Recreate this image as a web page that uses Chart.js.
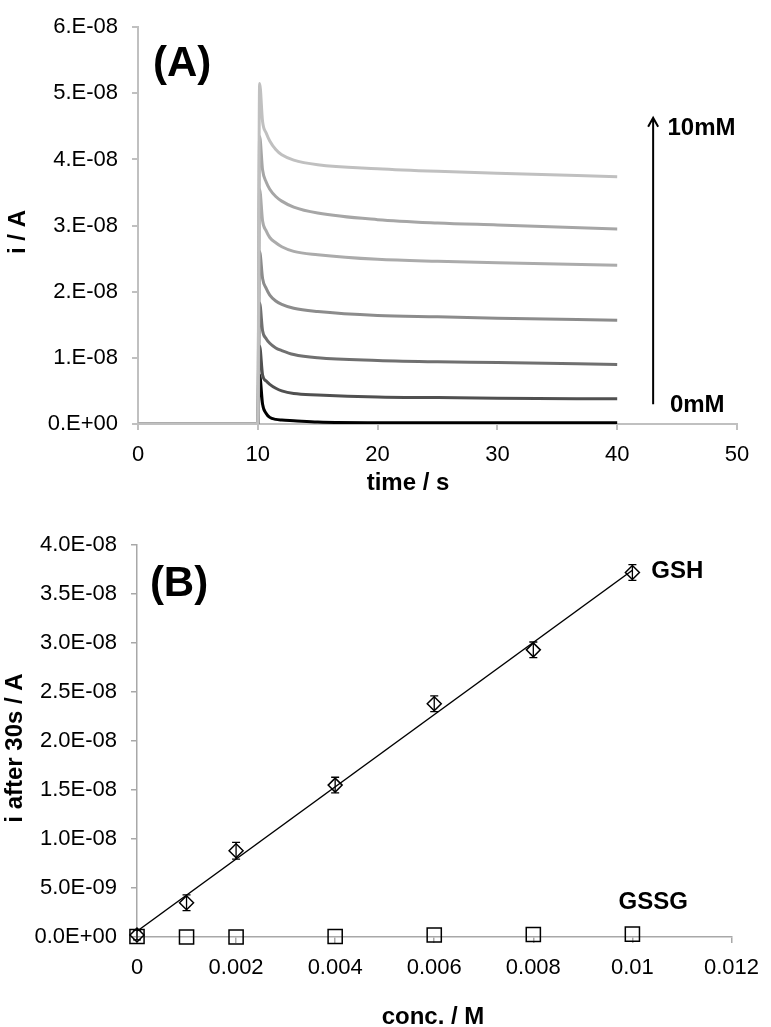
<!DOCTYPE html>
<html>
<head>
<meta charset="utf-8">
<script src="https://cdn.jsdelivr.net/npm/chart.js@4.4.1/dist/chart.umd.min.js"></script>
<style>
  body { margin: 0; background: #fff; }
  canvas { display: block; }
</style>
</head>
<body>
<canvas id="chartA" width="771" height="500"></canvas>
<canvas id="chartB" width="771" height="527"></canvas>
<script>
// ---- (A) chronoamperometry, current in units of 1E-08 A ----
const times = [0, 10, 10.15, 10.4, 10.7, 11, 11.5, 12, 13, 15, 20, 25, 30, 40];
const cur10mM = [0, 0, 5.15, 4.57, 4.40, 4.28, 4.15, 4.07, 3.99, 3.92, 3.86, 3.82, 3.79, 3.74];
const cur8mM  = [0, 0, 4.35, 3.84, 3.66, 3.55, 3.44, 3.37, 3.28, 3.19, 3.09, 3.04, 3.01, 2.95];
const cur6mM  = [0, 0, 3.55, 3.07, 2.92, 2.82, 2.74, 2.68, 2.61, 2.56, 2.49, 2.46, 2.44, 2.40];
const cur4mM  = [0, 0, 2.61, 2.20, 2.05, 1.95, 1.86, 1.81, 1.75, 1.70, 1.64, 1.62, 1.60, 1.57];
const cur2mM  = [0, 0, 1.83, 1.41, 1.29, 1.22, 1.15, 1.11, 1.05, 1.00, 0.96, 0.94, 0.93, 0.90];
const cur1mM  = [0, 0, 1.18, 0.74, 0.65, 0.60, 0.54, 0.50, 0.46, 0.44, 0.41, 0.40, 0.39, 0.38];
const cur0mM  = [0, 0, 0.74, 0.30, 0.16, 0.10, 0.07, 0.06, 0.05, 0.03, 0.02, 0.02, 0.02, 0.02];
const curveNames = ['10mM', '8mM', '6mM', '4mM', '2mM', '1mM', '0mM'];
const curveColors = ['#c0c0c0', '#a6a6a6', '#ababab', '#8c8c8c', '#707070', '#505050', '#000000'];
const yTicksA = ['0.E+00', '1.E-08', '2.E-08', '3.E-08', '4.E-08', '5.E-08', '6.E-08'];

// ---- (B) current after 30 s vs concentration, units of 1E-08 A ----
const concs = [0, 0.001, 0.002, 0.004, 0.006, 0.008, 0.01];
const gsh = [0.02, 0.35, 0.88, 1.55, 2.38, 2.93, 3.72];
const gshErr = [0.05, 0.08, 0.085, 0.08, 0.08, 0.08, 0.08];
const gssg = [0.005, 0, 0, 0.005, 0.02, 0.025, 0.03];
const yTicksB = ['0.0E+00', '5.0E-09', '1.0E-08', '1.5E-08', '2.0E-08', '2.5E-08', '3.0E-08', '3.5E-08', '4.0E-08'];
const xTicksB = ['0', '0.002', '0.004', '0.006', '0.008', '0.01', '0.012'];

const FONT = "'Liberation Sans', Arial, sans-serif";

function pts(xs, ys) {
  return xs.map((x, i) => ({ x: x, y: ys[i] }));
}

function axis(color, width) {
  return {
    border: { display: true, color: color, width: width },
    grid: { display: true, drawOnChartArea: false, drawTicks: true, tickLength: 6, color: color, lineWidth: width },
  };
}

function text(ctx, str, x, y, size, mode) {
  ctx.save();
  ctx.font = 'bold ' + size + 'px ' + FONT;
  ctx.fillStyle = '#000';
  ctx.textBaseline = 'middle';
  ctx.translate(x, y);
  if (mode === 'rot') {
    ctx.rotate(-Math.PI / 2);
    ctx.textAlign = 'center';
  } else if (mode === 'center') {
    ctx.textAlign = 'center';
  } else {
    ctx.textAlign = 'left';
  }
  ctx.fillText(str, 0, 0);
  ctx.restore();
}

const curves = [cur10mM, cur8mM, cur6mM, cur4mM, cur2mM, cur1mM, cur0mM];

const notesA = {
  id: 'notesA',
  afterDraw(chart) {
    const ctx = chart.ctx, xs = chart.scales.x, ys = chart.scales.y;
    // arrow 0mM -> 10mM
    const ax = xs.getPixelForValue(43);
    const yb = ys.getPixelForValue(0.3), yt = ys.getPixelForValue(4.63);
    ctx.save();
    ctx.strokeStyle = '#000';
    ctx.lineWidth = 2;
    ctx.beginPath();
    ctx.moveTo(ax, yb);
    ctx.lineTo(ax, yt);
    ctx.moveTo(ax - 5, yt + 9);
    ctx.lineTo(ax, yt);
    ctx.lineTo(ax + 5, yt + 9);
    ctx.stroke();
    ctx.restore();
    text(ctx, '10mM', xs.getPixelForValue(44.2), ys.getPixelForValue(4.47), 24);
    text(ctx, '0mM', xs.getPixelForValue(44.4), ys.getPixelForValue(0.28), 24);
    text(ctx, '(A)', xs.getPixelForValue(1.25), ys.getPixelForValue(5.44), 42);
    text(ctx, 'time / s', 408, 483, 24, 'center');
    text(ctx, 'i / A', 18, 232, 24, 'rot');
  }
};

new Chart(document.getElementById('chartA'), {
  type: 'line',
  data: {
    datasets: curves.map((c, i) => ({
      label: curveNames[i],
      data: pts(times, c),
      borderColor: curveColors[i],
      borderWidth: 3,
      pointRadius: 0,
      cubicInterpolationMode: 'monotone',
      fill: false,
    }))
  },
  options: {
    responsive: false,
    animation: false,
    devicePixelRatio: 1,
    layout: { padding: { left: 0, top: 12, right: 34, bottom: 0 } },
    plugins: { legend: { display: false }, tooltip: { enabled: false } },
    scales: {
      x: Object.assign(axis('#c0c0c0', 2), {
        type: 'linear', min: 0, max: 50,
        ticks: { stepSize: 10, padding: 12, color: '#000', font: { family: FONT, size: 22 }, maxRotation: 0 },
        afterFit: (s) => { s.height = 76; }
      }),
      y: Object.assign(axis('#c0c0c0', 2), {
        min: 0, max: 6,
        ticks: { stepSize: 1, padding: 14, color: '#000', font: { family: FONT, size: 22 },
          callback: (v, i) => yTicksA[i] },
        afterFit: (s) => { s.width = 138; }
      })
    }
  },
  plugins: [notesA]
});

// least-squares trend line through the GSH points
const n = concs.length;
const mx = concs.reduce((a, b) => a + b, 0) / n;
const my = gsh.reduce((a, b) => a + b, 0) / n;
let sxy = 0, sxx = 0;
concs.forEach((x, i) => { sxy += (x - mx) * (gsh[i] - my); sxx += (x - mx) * (x - mx); });
const slope = sxy / sxx, icpt = my - slope * mx;
const trendX = [concs[0], concs[n - 1]];
const trendY = trendX.map(x => icpt + slope * x);

const notesB = {
  id: 'notesB',
  afterDatasetsDraw(chart) {
    const ctx = chart.ctx, xs = chart.scales.x, ys = chart.scales.y;
    ctx.save();
    ctx.strokeStyle = '#000';
    ctx.lineWidth = 1.3;
    concs.forEach((c, i) => {
      const px = xs.getPixelForValue(c);
      const top = ys.getPixelForValue(gsh[i] + gshErr[i]);
      const bot = ys.getPixelForValue(gsh[i] - gshErr[i]);
      ctx.beginPath();
      ctx.moveTo(px, top); ctx.lineTo(px, bot);
      ctx.moveTo(px - 4, top); ctx.lineTo(px + 4, top);
      ctx.moveTo(px - 4, bot); ctx.lineTo(px + 4, bot);
      ctx.stroke();
    });
    ctx.restore();
  },
  afterDraw(chart) {
    const ctx = chart.ctx, xs = chart.scales.x, ys = chart.scales.y;
    text(ctx, 'GSH', xs.getPixelForValue(0.01038), ys.getPixelForValue(3.73), 24);
    text(ctx, 'GSSG', xs.getPixelForValue(0.00972), ys.getPixelForValue(0.35), 24);
    text(ctx, '(B)', xs.getPixelForValue(0.00026), ys.getPixelForValue(3.60), 42);
    text(ctx, 'conc. / M', 433, 517, 24, 'center');
    text(ctx, 'i after 30s / A', 15, 248, 24, 'rot');
  }
};

new Chart(document.getElementById('chartB'), {
  type: 'scatter',
  data: {
    datasets: [
      {
        label: 'fit',
        data: pts(trendX, trendY),
        showLine: true,
        borderColor: '#000',
        borderWidth: 1.5,
        pointRadius: 0,
        clip: false,
        order: 3
      },
      {
        label: 'GSH',
        data: pts(concs, gsh),
        pointStyle: 'rectRot',
        pointRadius: 7,
        borderColor: '#000',
        backgroundColor: 'rgba(0,0,0,0)',
        borderWidth: 1.5,
        clip: false,
        order: 1
      },
      {
        label: 'GSSG',
        data: pts(concs, gssg),
        pointStyle: 'rect',
        pointRadius: 10,
        borderColor: '#000',
        backgroundColor: 'rgba(0,0,0,0)',
        borderWidth: 1.5,
        clip: false,
        order: 2
      }
    ]
  },
  options: {
    responsive: false,
    animation: false,
    devicePixelRatio: 1,
    layout: { padding: { left: 0, top: 45, right: 29, bottom: 0 } },
    plugins: { legend: { display: false }, tooltip: { enabled: false } },
    scales: {
      x: Object.assign(axis('#a8a8a8', 1.5), {
        type: 'linear', min: 0, max: 0.012,
        ticks: { stepSize: 0.002, padding: 12, color: '#000', font: { family: FONT, size: 22 }, maxRotation: 0,
          callback: (v, i) => xTicksB[i] },
        afterFit: (s) => { s.height = 90; }
      }),
      y: Object.assign(axis('#a8a8a8', 1.5), {
        min: 0, max: 4,
        ticks: { stepSize: 0.5, padding: 14, color: '#000', font: { family: FONT, size: 22 },
          callback: (v, i) => yTicksB[i] },
        afterFit: (s) => { s.width = 137; }
      })
    }
  },
  plugins: [notesB]
});
</script>
</body>
</html>
